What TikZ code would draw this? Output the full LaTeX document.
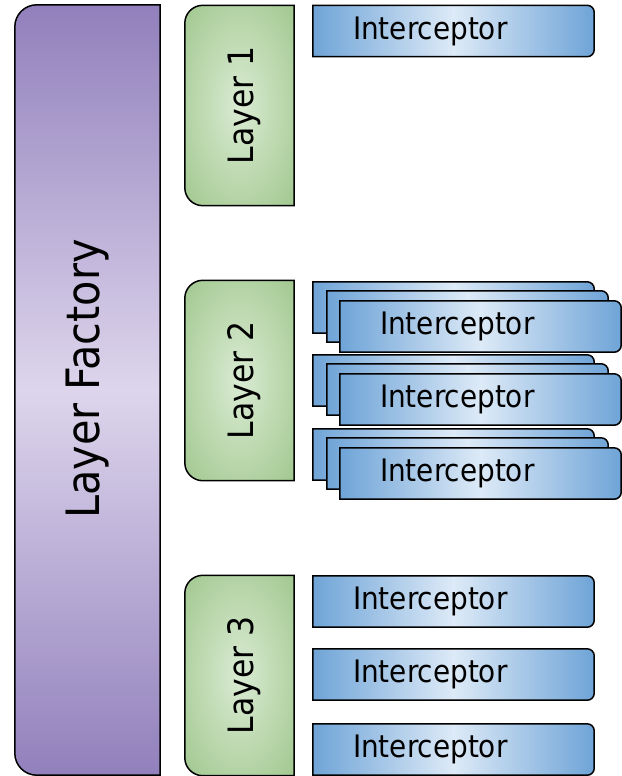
\documentclass[tikz,border=0pt]{standalone}
\usepackage{fontspec}
\setmainfont{DejaVu Sans Condensed}
\usetikzlibrary{backgrounds}

\definecolor{purpledark}{RGB}{145,128,188}
\definecolor{purplelight}{RGB}{221,213,236}
\definecolor{greendark}{RGB}{154,195,134}
\definecolor{greenlight}{RGB}{218,235,211}
\definecolor{bluedark}{RGB}{111,164,215}
\definecolor{bluelight}{RGB}{221,234,247}

\pgfdeclareradialshading{layerglow}{\pgfpoint{0bp}{0bp}}{%
  color(0bp)=(greenlight); color(40bp)=(greendark); color(72bp)=(greendark)}

% box outlines with only one side rounded
\newcommand{\leftrounded}[3]{%
  \path[#3] (#1.north east) -- ([xshift=#2]#1.north west)
    arc[start angle=90, end angle=180, radius=#2]
    -- ([yshift=#2]#1.south west)
    arc[start angle=180, end angle=270, radius=#2] -- (#1.south east) -- cycle;}
\newcommand{\rightrounded}[3]{%
  \path[#3] (#1.north west) -- ([xshift=-#2]#1.north east)
    arc[start angle=90, end angle=0, radius=#2]
    -- ([yshift=#2]#1.south east)
    arc[start angle=0, end angle=-90, radius=#2] -- (#1.south west) -- cycle;}

\tikzset{
  outline/.style={draw=black, line width=1.5pt},
  factoryshape/.style={outline, top color=purpledark, bottom color=purpledark, middle color=purplelight},
  layershape/.style={outline, shade, shading=layerglow},
  icshape/.style={outline, left color=bluedark, right color=bluedark, middle color=bluelight},
  factorybox/.style={minimum width=145pt, minimum height=770pt, inner sep=0pt,
    font=\fontsize{46}{50}\selectfont},
  layerbox/.style={minimum width=109pt, minimum height=200pt, inner sep=0pt,
    font=\fontsize{35}{38}\selectfont},
  icbox/.style={minimum height=51pt, text width=201pt, inner xsep=40pt, inner ysep=0pt,
    align=left, font=\fontsize{31}{34}\selectfont}
}

\begin{document}
\begin{tikzpicture}[x=1pt, y=-1pt]
  \useasboundingbox (0,0) rectangle (621,776);

  % factory
  \node[factorybox] (factory) at (87.5,390) {\rotatebox{90}{\hspace{22pt}Layer Factory}};
  \begin{pgfonlayer}{background}
    \leftrounded{factory}{22pt}{factoryshape}
  \end{pgfonlayer}

  % layers
  \foreach \name/\y/\txt in {layer1/105.5/{Layer 1}, layer2/380.5/{Layer 2}, layer3/675.5/{Layer 3}} {
    \node[layerbox] (\name) at (239.5,\y) {\rotatebox{90}{\rule{0pt}{36pt}\txt}};
    \begin{pgfonlayer}{background}
      \leftrounded{\name}{18pt}{layershape}
    \end{pgfonlayer}
  }

  % single interceptors
  \foreach \name/\y in {ic1/31, ic3a/601.5, ic3b/674.5, ic3c/749.5} {
    \node[icbox] (\name) at (453.5,\y) {Interceptor};
    \begin{pgfonlayer}{background}
      \rightrounded{\name}{7pt}{icshape}
    \end{pgfonlayer}
  }

  % stacked interceptors of layer 2
  \foreach \s/\y in {a/307.5, b/380.5, c/454.5} {
    \node[icbox] (ic2\s back) at (453.5,\y) {};
    \node[icbox] (ic2\s mid) at (467.5,{\y+9}) {};
    \node[icbox] (ic2\s) at (480.5,{\y+19}) {Interceptor};
    \begin{pgfonlayer}{background}
      \rightrounded{ic2\s back}{7pt}{icshape}
      \rightrounded{ic2\s mid}{7pt}{icshape}
      \rightrounded{ic2\s}{7pt}{icshape}
    \end{pgfonlayer}
  }
\end{tikzpicture}
\end{document}
